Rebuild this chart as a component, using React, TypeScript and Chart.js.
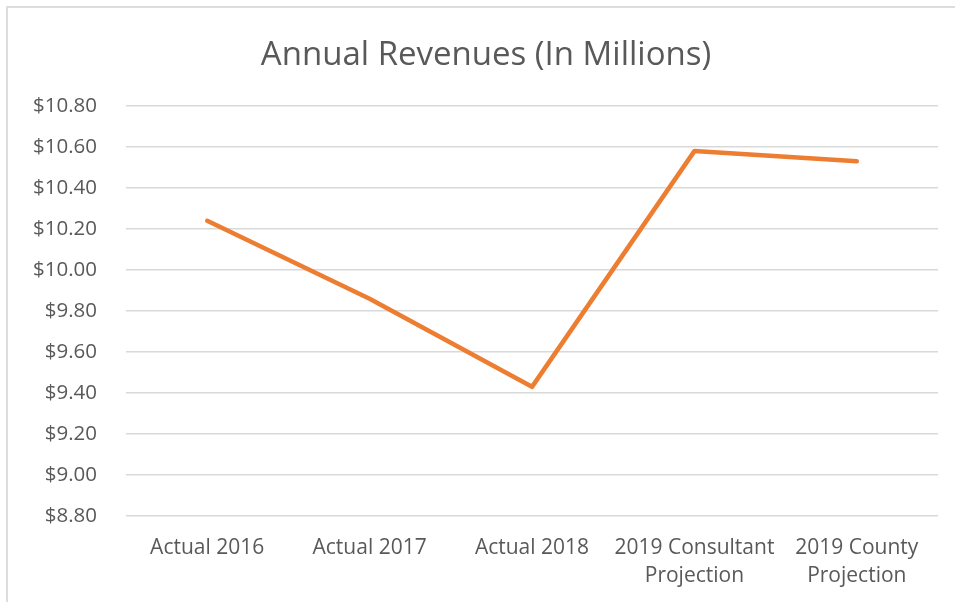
import React, { useEffect, useRef } from "react";
import { Chart, registerables } from "chart.js";

Chart.register(...registerables);

const categories: (string | string[])[] = [
  "Actual 2016",
  "Actual 2017",
  "Actual 2018",
  ["2019 Consultant", "Projection"],
  ["2019 County", "Projection"],
];
const revenues: number[] = [10.24, 9.86, 9.43, 10.58, 10.53];
const yMin = 8.8;
const yMax = 10.8;
const yStep = 0.2;
const titleText = "Annual Revenues (In Millions)";

export default function App() {
  const ref = useRef<HTMLCanvasElement | null>(null);

  useEffect(() => {
    if (!ref.current) return;
    const font = "'Open Sans', 'Noto Sans', sans-serif";
    const chart = new Chart(ref.current, {
      type: "line",
      data: {
        labels: categories,
        datasets: [
          {
            data: revenues,
            borderColor: "#ED7D31",
            backgroundColor: "#ED7D31",
            borderWidth: 4.5,
            pointRadius: 0,
            borderCapStyle: "round",
            borderJoinStyle: "round",
            tension: 0,
          },
        ],
      },
      options: {
        animation: false,
        responsive: false,
        maintainAspectRatio: false,
        layout: { padding: { top: 36, right: 17, bottom: 12, left: 34 } },
        plugins: {
          legend: { display: false },
          tooltip: { enabled: false },
          title: {
            display: true,
            text: titleText,
            color: "#595959",
            font: { family: font, size: 33, weight: "normal" },
            padding: { top: 0, bottom: 30.4 },
          },
        },
        scales: {
          x: {
            offset: true,
            grid: { display: false, drawTicks: false },
            border: { display: false },
            ticks: {
              color: "#595959",
              font: { family: font, size: 21, lineHeight: 1.33 },
              padding: 18,
              maxRotation: 0,
              autoSkip: false,
            },
            afterFit: (scale: any) => {
              scale.height = 74;
            },
          },
          y: {
            min: yMin,
            max: yMax,
            grid: { color: "#D9D9D9", lineWidth: 1.5, drawTicks: false },
            border: { display: false },
            ticks: {
              stepSize: yStep,
              color: "#595959",
              font: { family: font, size: 20.5 },
              padding: 29,
              callback: (v: any) => "$" + Number(v).toFixed(2),
            },
            afterFit: (scale: any) => {
              scale.width = 92;
            },
          },
        },
      },
    });
    return () => chart.destroy();
  }, []);

  return (
    <div style={{ position: "fixed", left: 0, top: 0, width: 955, height: 602, background: "#fff", overflow: "hidden" }}>
      <div
        style={{
          position: "absolute",
          left: 6,
          top: 6,
          width: 1000,
          height: 1000,
          border: "2px solid #DDDDDD",
          boxSizing: "border-box",
        }}
      />
      <canvas ref={ref} width={955} height={602} style={{ position: "absolute", left: 0, top: 0 }} />
    </div>
  );
}
